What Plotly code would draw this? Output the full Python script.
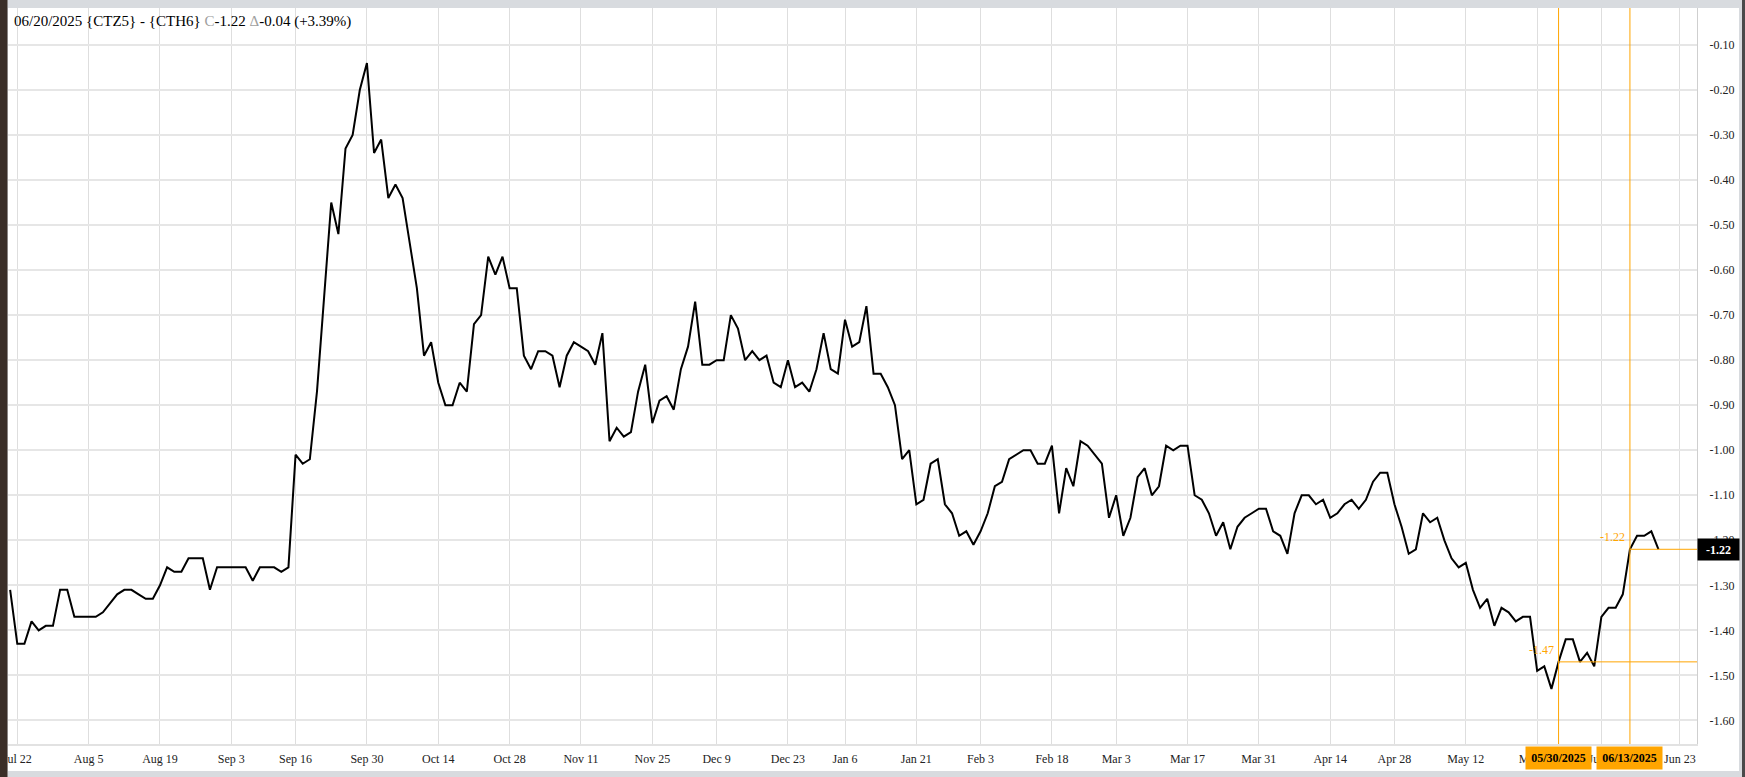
import pandas as pd
import plotly.graph_objects as go

# ---------------- data ----------------
start_date = "2024-07-19"
end_date = "2025-06-20"
holidays = ["2024-09-02", "2024-11-28", "2024-12-25", "2025-01-01", "2025-01-20",
            "2025-02-17", "2025-04-18", "2025-05-26", "2025-06-19"]
future_days = ["2025-06-21", "2025-06-22", "2025-06-23", "2025-06-24", "2025-06-25", "2025-06-26"]

spread = [
    -1.31, -1.43, -1.43, -1.38, -1.40, -1.39, -1.39, -1.31, -1.31, -1.37,
    -1.37, -1.37, -1.37, -1.36, -1.34, -1.32, -1.31, -1.31, -1.32, -1.33,
    -1.33, -1.30, -1.26, -1.27, -1.27, -1.24, -1.24, -1.24, -1.31, -1.26,
    -1.26, -1.26, -1.26, -1.26, -1.29, -1.26, -1.26, -1.26, -1.27, -1.26,
    -1.01, -1.03, -1.02, -0.87, -0.66, -0.45, -0.52, -0.33, -0.30, -0.20,
    -0.14, -0.34, -0.31, -0.44, -0.41, -0.44, -0.54, -0.64, -0.79, -0.76,
    -0.85, -0.90, -0.90, -0.85, -0.87, -0.72, -0.70, -0.57, -0.61, -0.57,
    -0.64, -0.64, -0.79, -0.82, -0.78, -0.78, -0.79, -0.86, -0.79, -0.76,
    -0.77, -0.78, -0.81, -0.74, -0.98, -0.95, -0.97, -0.96, -0.87, -0.81,
    -0.94, -0.89, -0.88, -0.91, -0.82, -0.77, -0.67, -0.81, -0.81, -0.80,
    -0.80, -0.70, -0.73, -0.80, -0.78, -0.80, -0.79, -0.85, -0.86, -0.80,
    -0.86, -0.85, -0.87, -0.82, -0.74, -0.82, -0.83, -0.71, -0.77, -0.76,
    -0.68, -0.83, -0.83, -0.86, -0.90, -1.02, -1.00, -1.12, -1.11, -1.03,
    -1.02, -1.12, -1.14, -1.19, -1.18, -1.21, -1.18, -1.14, -1.08, -1.07,
    -1.02, -1.01, -1.00, -1.00, -1.03, -1.03, -0.99, -1.14, -1.04, -1.08,
    -0.98, -0.99, -1.01, -1.03, -1.15, -1.10, -1.19, -1.15, -1.06, -1.04,
    -1.10, -1.08, -0.99, -1.00, -0.99, -0.99, -1.10, -1.11, -1.14, -1.19,
    -1.16, -1.22, -1.17, -1.15, -1.14, -1.13, -1.13, -1.18, -1.19, -1.23,
    -1.14, -1.10, -1.10, -1.12, -1.11, -1.15, -1.14, -1.12, -1.11, -1.13,
    -1.11, -1.07, -1.05, -1.05, -1.12, -1.17, -1.23, -1.22, -1.14, -1.16,
    -1.15, -1.20, -1.24, -1.26, -1.25, -1.31, -1.35, -1.33, -1.39, -1.35,
    -1.36, -1.38, -1.37, -1.37, -1.49, -1.48, -1.53, -1.47, -1.42, -1.42,
    -1.47, -1.45, -1.48, -1.37, -1.35, -1.35, -1.32, -1.22, -1.19, -1.19,
    -1.18, -1.22,
]

xtick_dates = ["2024-07-22", "2024-08-05", "2024-08-19", "2024-09-03", "2024-09-16",
               "2024-09-30", "2024-10-14", "2024-10-28", "2024-11-11", "2024-11-25",
               "2024-12-09", "2024-12-23", "2025-01-06", "2025-01-21", "2025-02-03",
               "2025-02-18", "2025-03-03", "2025-03-17", "2025-03-31", "2025-04-14",
               "2025-04-28", "2025-05-12", "2025-05-27", "2025-06-09", "2025-06-23"]
xtick_text = ["Jul 22", "Aug 5", "Aug 19", "Sep 3", "Sep 16", "Sep 30", "Oct 14",
              "Oct 28", "Nov 11", "Nov 25", "Dec 9", "Dec 23", "Jan 6", "Jan 21",
              "Feb 3", "Feb 18", "Mar 3", "Mar 17", "Mar 31", "Apr 14", "Apr 28",
              "May 12", "May 27", "Jun 9", "Jun 23"]
ytick_vals = [-0.10, -0.20, -0.30, -0.40, -0.50, -0.60, -0.70, -0.80,
              -0.90, -1.00, -1.10, -1.20, -1.30, -1.40, -1.50, -1.60]
ytick_text = ["-0.10", "-0.20", "-0.30", "-0.40", "-0.50", "-0.60", "-0.70", "-0.80",
              "-0.90", "-1.00", "-1.10", "-1.20", "-1.30", "-1.40", "-1.50", "-1.60"]

marker_dates = ["2025-05-30", "2025-06-13"]
marker_values = [-1.47, -1.22]
marker_value_text = ["-1.47", "-1.22"]
marker_labels = ["05/30/2025", "06/13/2025"]
last_value = -1.22
last_value_text = "-1.22"
title_html = ("06/20/2025 {CTZ5} - {CTH6} <span style='color:#a0a0a0'>C</span>-1.22 "
              "<span style='color:#a0a0a0'>\u0394</span>-0.04 (+3.39%)")

# ---------------- calendar ----------------
days = pd.bdate_range(start_date, end_date)
days = days[~days.isin(pd.to_datetime(holidays))]
dates = [d.strftime("%Y-%m-%d") for d in days]
categories = dates + future_days

# ---------------- layout geometry ----------------
W, H = 1745, 777
ML, MR, MT, MB = 8, 48, 8, 33
PW, PH = W - ML - MR, H - MT - MB
x_range = [-0.30, 236.4]
y_range = [-1.6524, -0.0179]

def px_x(p):
    return (p - ML) / PW

def px_y(p):
    return (H - MB - p) / PH

SERIF = "Liberation Serif, Times New Roman, serif"
ORANGE = "#FFA500"

fig = go.Figure()
fig.add_trace(go.Scatter(x=dates, y=spread, mode="lines",
                         line=dict(color="black", width=2), hoverinfo="skip",
                         showlegend=False))

shapes = []
# frame: white card over grey page
shapes.append(dict(type="rect", xref="paper", yref="paper", layer="below",
                   x0=px_x(8), x1=px_x(1739), y0=px_y(771), y1=px_y(8),
                   fillcolor="white", line=dict(width=0)))
# left dark strip
shapes.append(dict(type="rect", xref="paper", yref="paper", layer="above",
                   x0=px_x(0), x1=px_x(7.5), y0=px_y(777), y1=px_y(0),
                   fillcolor="#3a2e28", line=dict(width=0)))
# right dark edge
shapes.append(dict(type="rect", xref="paper", yref="paper", layer="above",
                   x0=px_x(1742), x1=px_x(1745), y0=px_y(777), y1=px_y(0),
                   fillcolor="#4a4a4a", line=dict(width=0)))
# orange vertical + horizontal marker lines
for d, v in zip(marker_dates, marker_values):
    shapes.append(dict(type="line", xref="x", yref="paper", x0=d, x1=d, y0=0, y1=1,
                       line=dict(color=ORANGE, width=1), layer="above"))
    shapes.append(dict(type="line", xref="x", yref="y", x0=d, x1=x_range[1], y0=v, y1=v,
                       line=dict(color=ORANGE, width=1), layer="above"))

annotations = []
annotations.append(dict(xref="paper", yref="paper", x=0, y=1, xanchor="left", yanchor="top",
                        xshift=4, yshift=-3, text=title_html, showarrow=False,
                        font=dict(family=SERIF, size=15, color="black")))
for d, v, vt, lab in zip(marker_dates, marker_values, marker_value_text, marker_labels):
    annotations.append(dict(xref="x", yref="y", x=d, y=v, xanchor="right", yanchor="bottom",
                            xshift=-3, yshift=3, text=vt, showarrow=False,
                            font=dict(family=SERIF, size=12, color=ORANGE)))
    annotations.append(dict(xref="x", yref="paper", x=d, y=0, xanchor="center", yanchor="top",
                            yshift=-1.5, text="<b>" + lab + "</b>", showarrow=False,
                            width=65, height=22, borderpad=0, bgcolor=ORANGE,
                            font=dict(family=SERIF, size=12, color="black")))
annotations.append(dict(xref="paper", yref="y", x=1, y=last_value, xanchor="left",
                        yanchor="middle", text="<b>" + last_value_text + "</b>",
                        showarrow=False, width=41, height=21, borderpad=0, bgcolor="black",
                        font=dict(family=SERIF, size=12, color="white")))

fig.update_layout(
    width=W, height=H,
    margin=dict(l=ML, r=MR, t=MT, b=MB, pad=0, autoexpand=False),
    paper_bgcolor="#d8dbdf", plot_bgcolor="white",
    showlegend=False,
    shapes=shapes, annotations=annotations,
    xaxis=dict(type="category", categoryorder="array", categoryarray=categories,
               range=x_range, tickmode="array", tickvals=xtick_dates, ticktext=xtick_text,
               showgrid=True, gridcolor="#dedede", gridwidth=1,
               ticks="", ticklabelstandoff=3, automargin=False,
               showline=True, linecolor="#e2e2e2", linewidth=2,
               tickfont=dict(family=SERIF, size=12, color="#222222"),
               zeroline=False, fixedrange=True),
    yaxis=dict(side="right", range=y_range, tickmode="array", tickvals=ytick_vals,
               ticktext=ytick_text, showgrid=True, gridcolor="#e6e6e6", gridwidth=2,
               ticks="outside", ticklen=9, tickcolor="rgba(0,0,0,0)", automargin=False,
               showline=True, linecolor="#cfcfcf", linewidth=1, mirror=False,
               tickfont=dict(family=SERIF, size=12, color="#222222"),
               zeroline=False, fixedrange=True),
)

fig.write_html("out.html",
               config={"displayModeBar": False, "staticPlot": True},
               post_script="document.body.style.margin='0';"
                           "document.body.style.overflow='hidden';")
